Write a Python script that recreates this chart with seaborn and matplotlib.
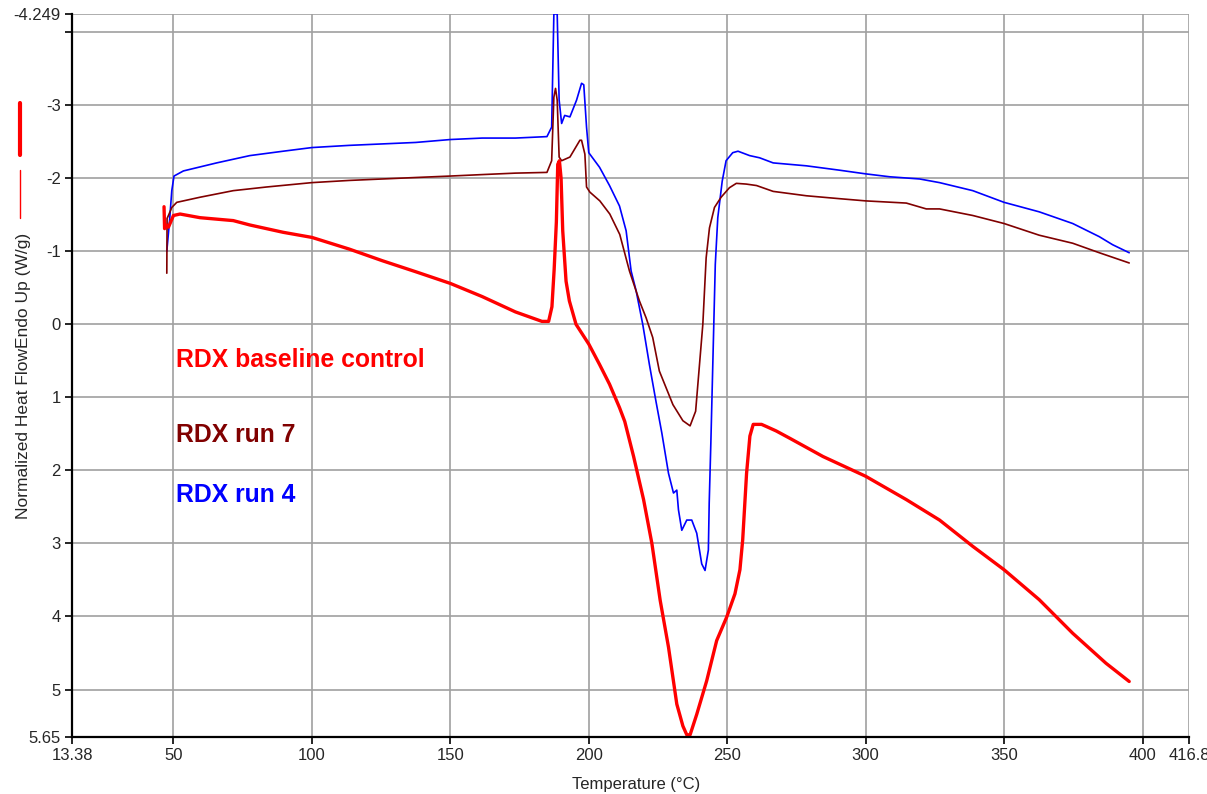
import numpy as np
import matplotlib
matplotlib.use('Agg')
import matplotlib.pyplot as plt
from matplotlib.lines import Line2D
import seaborn as sns

# ── data ────────────────────────────────────────────────────────────
temp_ctrl = [46.6, 46.8, 47.4, 48.2, 50.0, 52.4, 59.6, 71.6, 77.6, 89.6, 100, 113.5, 125.5,
             137.5, 150, 161.5, 173.5, 183.1, 185.5, 186.7, 187.5, 188.3, 188.8, 189.4, 190.0,
             190.6, 191.8, 193.0, 195.4, 200, 203.9, 207.5, 211.1, 213.0, 216.2, 219.8, 222.8,
             225.8, 228.8, 231.8, 234.0, 235.4, 236.6, 239.0, 242.6, 246.2, 249.8, 252.8, 254.6,
             255.6, 257.0, 258.2, 259.4, 262.4, 264.2, 267.7, 272.6, 284.6, 300, 314.7, 326.7,
             338.7, 350, 362.7, 374.8, 386.8, 395.2]
hf_ctrl = [-1.61, -1.31, -1.36, -1.33, -1.49, -1.51, -1.46, -1.42, -1.36, -1.26, -1.19, -1.03,
           -0.87, -0.72, -0.56, -0.38, -0.17, -0.04, -0.04, -0.24, -0.75, -1.4, -2.19, -2.24,
           -2.0, -1.28, -0.59, -0.32, 0.0, 0.27, 0.55, 0.82, 1.14, 1.33, 1.81, 2.40, 3.0, 3.78,
           4.42, 5.2, 5.5, 5.62, 5.62, 5.34, 4.88, 4.33, 4.01, 3.69, 3.36, 2.95, 2.04, 1.53,
           1.37, 1.37, 1.40, 1.46, 1.56, 1.81, 2.08, 2.40, 2.68, 3.04, 3.36, 3.77, 4.23, 4.64,
           4.89]

temp_r7 = [47.6, 47.7, 48.3, 49.4, 51.2, 59.6, 71.6, 83.6, 100, 113.5, 125.5, 137.5, 150,
           161.5, 173.5, 184.9, 186.6, 187.4, 188.0, 188.6, 189.3, 190.2, 193.2, 196.8, 197.4,
           198.6, 199.2, 200.4, 204.0, 207.6, 211.2, 214.7, 218.3, 220.7, 223.1, 225.5, 230.4,
           234.0, 236.6, 238.6, 240.0, 241.2, 242.4, 243.6, 245.4, 247.8, 250.8, 253.3, 256.9,
           260.6, 266.6, 278.6, 290.6, 300, 314.7, 321.9, 326.7, 338.7, 350, 362.7, 374.8,
           384.4, 395.2]
hf_r7 = [-0.70, -1.45, -1.50, -1.60, -1.67, -1.74, -1.83, -1.88, -1.94, -1.97, -1.99, -2.01,
         -2.03, -2.05, -2.07, -2.08, -2.24, -3.11, -3.23, -3.07, -2.29, -2.24, -2.29, -2.52,
         -2.52, -2.33, -1.88, -1.81, -1.69, -1.51, -1.23, -0.73, -0.32, -0.09, 0.18, 0.64,
         1.10, 1.32, 1.39, 1.19, 0.55, 0.0, -0.91, -1.32, -1.60, -1.74, -1.87, -1.93, -1.92,
         -1.90, -1.82, -1.76, -1.72, -1.69, -1.66, -1.58, -1.58, -1.49, -1.38, -1.22, -1.11,
         -0.98, -0.84]

temp_r4 = [47.6, 48.6, 49.4, 50.2, 53.6, 65.6, 77.6, 89.6, 100, 113.5, 125.5, 137.5, 150,
           161.5, 173.5, 184.9, 186.6, 187.4, 188.6, 189.3, 190.2, 191.3, 193.2, 195.6, 197.4,
           198.2, 199.2, 200, 203.9, 207.5, 211.1, 213.5, 215.3, 217.1, 219.5, 221.9, 224.3,
           226.4, 228.8, 230.6, 231.8, 232.4, 233.6, 235.4, 237.2, 239.0, 240.8, 242.0, 243.2,
           243.5, 244.1, 244.8, 245.7, 246.6, 248.2, 249.6, 252.0, 253.9, 258.1, 261.7, 266.6,
           278.6, 290.6, 300, 308.7, 319.5, 326.7, 338.7, 350, 362.7, 374.8, 384.4, 389.2, 395.2]
hf_r4 = [-1.0, -1.42, -1.83, -2.03, -2.10, -2.21, -2.31, -2.37, -2.42, -2.45, -2.47, -2.49,
         -2.53, -2.55, -2.55, -2.57, -2.70, -4.25, -4.25, -3.07, -2.75, -2.86, -2.84, -3.07,
         -3.30, -3.28, -2.70, -2.35, -2.15, -1.90, -1.62, -1.28, -0.73, -0.46, 0.0, 0.55,
         1.06, 1.49, 2.04, 2.31, 2.27, 2.54, 2.82, 2.68, 2.68, 2.86, 3.28, 3.37, 3.09, 2.45,
         1.62, 0.55, -0.82, -1.46, -1.96, -2.24, -2.35, -2.37, -2.31, -2.28, -2.21, -2.17,
         -2.11, -2.06, -2.02, -1.99, -1.94, -1.83, -1.67, -1.54, -1.38, -1.20, -1.09, -0.98]

x_ticks = [13.38, 50, 100, 150, 200, 250, 300, 350, 400, 416.8]
x_labels = ['13.38', '50', '100', '150', '200', '250', '300', '350', '400', '416.8']
y_ticks = [-4.249, -4, -3, -2, -1, 0, 1, 2, 3, 4, 5, 5.65]
y_labels = ['-4.249', '', '-3', '-2', '-1', '0', '1', '2', '3', '4', '5', '5.65']

RED, BROWN, BLUE = '#ff0000', '#800000', '#0000ff'

# ── figure ───────────────────────────────────────────────────────────
sns.set_style('white')
plt.rcParams['font.family'] = ['Liberation Sans', 'DejaVu Sans']

fig = plt.figure(figsize=(12.07, 7.94), dpi=100)
ax = fig.add_axes([0.0597, 0.0718, 0.9254, 0.9106])

sns.lineplot(x=temp_r4, y=hf_r4, sort=False, estimator=None, color=BLUE, lw=1.2, ax=ax)
sns.lineplot(x=temp_r7, y=hf_r7, sort=False, estimator=None, color=BROWN, lw=1.2, ax=ax)
sns.lineplot(x=temp_ctrl, y=hf_ctrl, sort=False, estimator=None, color=RED, lw=2.4, ax=ax)

ax.set_xlim(x_ticks[0], x_ticks[-1])
ax.set_ylim(y_ticks[-1], y_ticks[0])
ax.set_xticks(x_ticks)
ax.set_xticklabels(x_labels)
ax.set_yticks(y_ticks)
ax.set_yticklabels(y_labels)
ax.grid(True, color='#a0a0a0', lw=1.2)
ax.set_axisbelow(True)

for s in ['top', 'right']:
    ax.spines[s].set_visible(False)
for s in ['left', 'bottom']:
    ax.spines[s].set_color('black')
    ax.spines[s].set_linewidth(1.6)
ax.tick_params(axis='both', direction='out', length=5, width=1.2, color='black',
               labelsize=12, pad=3, bottom=True, left=True)

ax.set_xlabel('Temperature (°C)', fontsize=12)
ax.set_ylabel('Normalized Heat FlowEndo Up (W/g)', fontsize=12.5)
ax.xaxis.set_label_coords(0.505, -0.055)
ax.yaxis.set_label_coords(-0.037, 0.5)

ax.text(51, 0.49, 'RDX baseline control', color=RED, fontsize=17.8, fontweight='bold', va='center')
ax.text(51, 1.52, 'RDX run 7', color=BROWN, fontsize=17.8, fontweight='bold', va='center')
ax.text(51, 2.34, 'RDX run 4', color=BLUE, fontsize=17.8, fontweight='bold', va='center')

# legend glyphs beside the y label
fig.add_artist(Line2D([0.0166, 0.0166], [0.870, 0.805], color=RED, lw=3))
fig.add_artist(Line2D([0.0166, 0.0166], [0.786, 0.725], color=RED, lw=1))

plt.savefig('out.png', dpi=100)
plt.close()
